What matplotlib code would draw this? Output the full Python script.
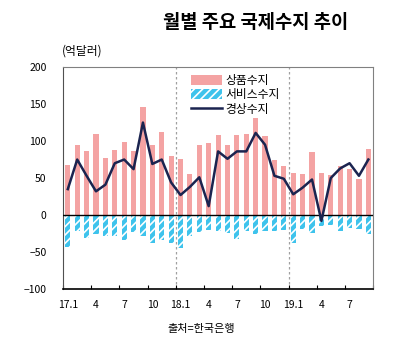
import matplotlib
matplotlib.use('Agg')
import matplotlib.pyplot as plt
import numpy as np

plt.rcParams['font.family'] = ['Noto Sans CJK KR', 'DejaVu Sans']
plt.rcParams['hatch.linewidth'] = 1.2
plt.rcParams['hatch.color'] = 'white'

# Monthly balances, 2017.1 - 2019.9 (100 million USD)
goods = [67, 95, 86, 109, 77, 88, 99, 86, 146, 94, 112, 80,
         76, 55, 94, 97, 108, 95, 108, 109, 131, 107, 74, 66,
         57, 55, 85, 57, 54, 66, 62, 49, 89]
services = [-43, -22, -31, -26, -29, -29, -34, -23, -28, -38, -34, -38,
            -45, -28, -23, -20, -22, -25, -33, -22, -26, -22, -22, -20,
            -38, -19, -25, -15, -13, -22, -18, -19, -26]
current = [35, 75, 53, 32, 41, 70, 75, 62, 125, 69, 75, 44,
           27, 38, 51, 12, 86, 76, 86, 86, 111, 95, 53, 49,
           28, 37, 48, -8, 50, 63, 70, 53, 75]
tick_labels = ['17.1', '4', '7', '10', '18.1', '4', '7', '10', '19.1', '4', '7']

x = np.arange(len(goods))

fig = plt.figure(figsize=(4.02, 3.44), dpi=100)
ax = fig.add_axes([0.157, 0.160, 0.771, 0.645])

b1 = ax.bar(x, goods, width=0.55, color='#F4A3A3', label='상품수지', zorder=2)
b2 = ax.bar(x, services, width=0.55, color='#3EC3EC', edgecolor='white',
            hatch='////', linewidth=0, label='서비스수지', zorder=2)
l1, = ax.plot(x, current, color='#1B2450', linewidth=1.8, label='경상수지', zorder=4)

ax.axhline(0, color='black', linewidth=1.0, zorder=3)
for b in (11.5, 23.5):
    ax.axvline(b, color='#A0A0A0', linestyle=(0, (2, 2)), linewidth=0.9, zorder=1)

ax.set_xlim(-0.5, len(goods) - 0.5)
ax.set_ylim(-100, 200)
ax.set_yticks([-100, -50, 0, 50, 100, 150, 200])
ax.tick_params(axis='y', length=0, labelsize=7.5, pad=12)

# tick marks at category boundaries, labels at category centres
ax.set_xticks(np.arange(-0.5, len(goods), 3))
ax.set_xticklabels([])
ax.tick_params(axis='x', which='major', direction='in', length=3, width=0.8)
ax.set_xticks(np.arange(0, len(goods), 3), minor=True)
ax.set_xticklabels(tick_labels, minor=True)
ax.tick_params(axis='x', which='minor', length=0, labelsize=7.5, pad=8)

for s in ('top', 'right'):
    ax.spines[s].set_color('#808080')
    ax.spines[s].set_linewidth(0.8)
ax.spines['left'].set_color('#505050')
ax.spines['bottom'].set_color('black')
ax.spines['bottom'].set_linewidth(1.2)

ax.legend(handles=[b1, b2, l1], loc='upper left', bbox_to_anchor=(0.39, 1.0),
          frameon=False, fontsize=8.5, handlelength=2.6, handleheight=0.9,
          labelspacing=0.1, borderaxespad=0.2, handletextpad=0.3)

fig.text(0.635, 0.935, '월별 주요 국제수지 추이', ha='center', va='center',
         fontsize=13.5, fontweight='bold')
fig.text(0.155, 0.853, '(억달러)', ha='left', va='center', fontsize=8.5)
fig.text(0.5, 0.045, '출처=한국은행', ha='center', va='center', fontsize=8)

fig.savefig('out.png', dpi=100)
